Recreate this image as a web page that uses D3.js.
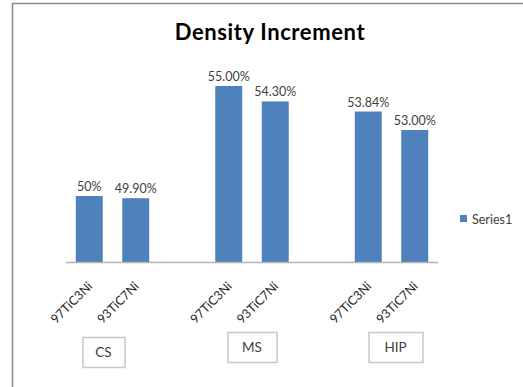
<!DOCTYPE html>
<html>
<head>
<meta charset="utf-8">
<script src="https://cdn.jsdelivr.net/npm/d3@7"></script>
<style>
  body { margin: 0; background: #fff; }
  svg { display: block; font-family: Lato, "Open Sans", sans-serif; }
</style>
</head>
<body>
<svg id="chart" width="523" height="387"></svg>
<script>
// 数据
const groups = ["CS", "MS", "HIP"];
const materials = ["97TiC3Ni", "93TiC7Ni"];
const increments = [[50, 49.9], [55, 54.3], [53.84, 53]];
const valueLabels = [["50%", "49.90%"], ["55.00%", "54.30%"], ["53.84%", "53.00%"]];
const seriesName = "Series1";

// 组标签框的位置(相对组中心的偏移)
const boxLayout = [
    { dx: -9, y: 337, w: 42 },
    { dx: 0, y: 332, w: 49 },
    { dx: 4, y: 332, w: 54 }
];

// 每组两根柱，中间空一格
const slots = [];
groups.forEach((g, gi) => {
    materials.forEach((m, mi) => {
        slots.push({ group: g, gi: gi, name: m, value: increments[gi][mi], label: valueLabels[gi][mi] });
    });
    if (gi < groups.length - 1) slots.push(null);
});

const svg = d3.select("#chart");
const barColor = "#4f81bd";

// 外框
svg.append("rect")
    .attr("x", 12.5).attr("y", 3.5)
    .attr("width", 560).attr("height", 420)
    .attr("fill", "none")
    .attr("stroke", "#8c8c8c")
    .attr("stroke-width", 1.5);

// 标题
svg.append("text")
    .attr("x", 270)
    .attr("y", 40)
    .attr("text-anchor", "middle")
    .style("font-size", "22px")
    .style("letter-spacing", "0.6px")
    .style("font-weight", "bold")
    .style("fill", "#000")
    .text("Density Increment");

// 比例尺
const x = d3.scaleBand()
    .domain(d3.range(slots.length))
    .range([66, 438])
    .paddingInner(0.42)
    .paddingOuter(0.21);

const y = d3.scaleLinear()
    .domain([47, 56])
    .range([262, 64]);

// 柱子
const data = slots.map((d, i) => d ? Object.assign({ i: i }, d) : null).filter(d => d);

svg.selectAll(".bar")
    .data(data)
    .enter().append("rect")
    .attr("class", "bar")
    .attr("x", d => x(d.i))
    .attr("y", d => y(d.value))
    .attr("width", x.bandwidth())
    .attr("height", d => y(47) - y(d.value))
    .attr("fill", barColor);

// 数据标签
svg.selectAll(".vlabel")
    .data(data)
    .enter().append("text")
    .attr("class", "vlabel")
    .attr("x", d => x(d.i) + x.bandwidth() / 2)
    .attr("y", d => y(d.value) - 5)
    .attr("text-anchor", "middle")
    .style("font-size", "12.5px")
    .style("fill", "#404040")
    .text(d => d.label);

// X轴线
svg.append("line")
    .attr("x1", 66).attr("x2", 438)
    .attr("y1", 262.5).attr("y2", 262.5)
    .attr("stroke", "#b3b3b3")
    .attr("stroke-width", 1.5);

// 类别标签(旋转)
svg.selectAll(".tick-label")
    .data(data)
    .enter().append("text")
    .attr("class", "tick-label")
    .attr("transform", d => `translate(${x(d.i) + x.bandwidth() / 2 + 4},287) rotate(-45)`)
    .attr("text-anchor", "end")
    .style("font-size", "12.5px")
    .style("fill", "#262626")
    .text(d => d.name);

// 组标签框
const boxes = svg.selectAll(".gbox")
    .data(groups)
    .enter().append("g")
    .attr("class", "gbox")
    .attr("transform", (g, gi) => {
        const cx = (x(gi * 3) + x(gi * 3 + 1) + x.bandwidth()) / 2 + boxLayout[gi].dx;
        return `translate(${cx - boxLayout[gi].w / 2},${boxLayout[gi].y})`;
    });

boxes.append("rect")
    .attr("x", 0.5).attr("y", 0.5)
    .attr("width", (g, gi) => boxLayout[gi].w)
    .attr("height", 30)
    .attr("fill", "#fff")
    .attr("stroke", "#c8c8c8")
    .attr("stroke-width", 1.5);

boxes.append("text")
    .attr("x", (g, gi) => boxLayout[gi].w / 2)
    .attr("y", 20)
    .attr("text-anchor", "middle")
    .style("font-size", "13.5px")
    .style("fill", "#404040")
    .text(g => g);

// 图例
const legend = svg.append("g").attr("transform", "translate(460,215)");
legend.append("rect")
    .attr("width", 7).attr("height", 7)
    .attr("fill", barColor);
legend.append("text")
    .attr("x", 12).attr("y", 8.5)
    .style("font-size", "12.5px")
    .style("fill", "#404040")
    .text(seriesName);
</script>
</body>
</html>
